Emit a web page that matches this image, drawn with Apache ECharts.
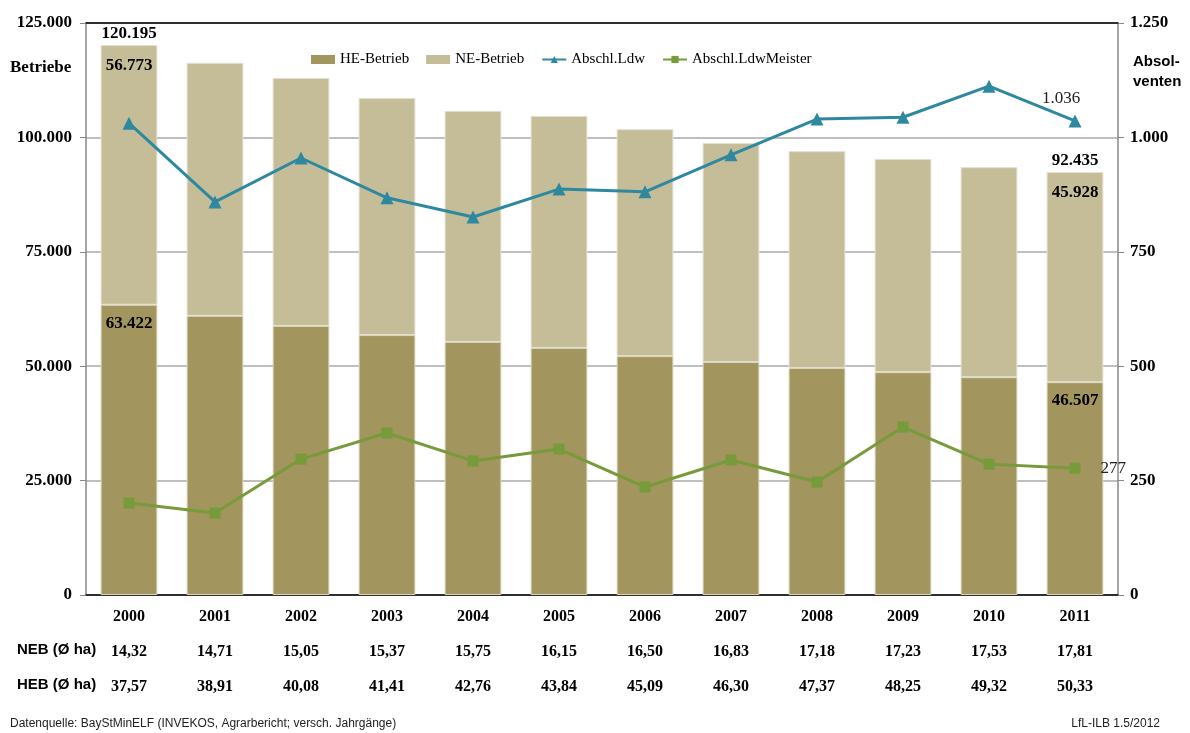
<!DOCTYPE html>
<html lang="de">
<head>
    <meta charset="UTF-8">
    <title>Betriebe und Absolventen</title>
    <script src="https://cdn.jsdelivr.net/npm/echarts@6/dist/echarts.min.js"></script>
    <style>
        html, body { margin: 0; height: 100%; background: #fff; }
        #main { width: 1190px; height: 733px; }
    </style>
</head>
<body>
<div id="main"></div>
<script>
    // Jahre
    var years = ['2000', '2001', '2002', '2003', '2004', '2005', '2006', '2007', '2008', '2009', '2010', '2011'];
    // Haupterwerbsbetriebe / Nebenerwerbsbetriebe
    var heBetrieb = [63422, 61000, 58800, 56800, 55300, 54000, 52200, 50900, 49600, 48700, 47600, 46507];
    var neBetrieb = [56773, 55300, 54200, 51800, 50500, 50700, 49600, 47900, 47400, 46600, 45900, 45928];
    var gesamt = [120195, null, null, null, null, null, null, null, null, null, null, 92435];
    // Absolventen
    var abschlLdw = [1031, 859, 955, 868, 826, 887, 881, 962, 1040, 1044, 1112, 1036];
    var abschlMeister = [201, 179, 297, 354, 293, 319, 236, 295, 247, 367, 286, 277];
    // Durchschnittliche Flaeche
    var nebHa = ['14,32', '14,71', '15,05', '15,37', '15,75', '16,15', '16,50', '16,83', '17,18', '17,23', '17,53', '17,81'];
    var hebHa = ['37,57', '38,91', '40,08', '41,41', '42,76', '43,84', '45,09', '46,30', '47,37', '48,25', '49,32', '50,33'];

    var serif = '"Liberation Serif", "Times New Roman", serif';
    var sans = '"Liberation Sans", Arial, sans-serif';

    function punkt(v) {
        return String(v).replace(/\B(?=(\d{3})+(?!\d))/g, '.');
    }
    function endLabel(p) {
        return (p.dataIndex === 0 || p.dataIndex === years.length - 1) ? punkt(p.value) : '';
    }

    var chart = echarts.init(document.getElementById('main'));

    var option = {
        animation: false,
        grid: { left: 86, right: 72, top: 23, bottom: 138 },
        legend: {
            left: 306,
            top: 47,
            itemWidth: 24,
            itemHeight: 9,
            itemGap: 17,
            itemStyle: { borderWidth: 0 },
            textStyle: { fontFamily: serif, fontSize: 15, color: '#000' },
            data: [
                { name: 'HE-Betrieb', icon: 'rect' },
                { name: 'NE-Betrieb', icon: 'rect' },
                'Abschl.Ldw',
                'Abschl.LdwMeister'
            ]
        },
        xAxis: [
            {
                type: 'category',
                data: years,
                axisLine: { lineStyle: { color: '#000', width: 1.5 } },
                axisTick: { show: false },
                axisLabel: { fontFamily: serif, fontSize: 16, fontWeight: 'bold', color: '#000', margin: 14 }
            },
            {
                type: 'category',
                data: nebHa,
                position: 'bottom',
                offset: 35,
                axisLine: { show: false },
                axisTick: { show: false },
                axisLabel: { fontFamily: serif, fontSize: 16, fontWeight: 'bold', color: '#000', margin: 14 }
            },
            {
                type: 'category',
                data: hebHa,
                position: 'bottom',
                offset: 70,
                axisLine: { show: false },
                axisTick: { show: false },
                axisLabel: { fontFamily: serif, fontSize: 16, fontWeight: 'bold', color: '#000', margin: 14 }
            },
            {
                type: 'category',
                data: years,
                position: 'top',
                axisLine: { lineStyle: { color: '#000', width: 1.5 } },
                axisTick: { show: false },
                axisLabel: { show: false }
            }
        ],
        yAxis: [
            {
                type: 'value',
                min: 0,
                max: 125000,
                interval: 25000,
                axisLine: { show: true, lineStyle: { color: '#888', width: 1.5 } },
                axisTick: { show: true, inside: false, length: 6, lineStyle: { color: '#888' } },
                splitLine: { lineStyle: { color: '#aaa', width: 1.5 } },
                axisLabel: {
                    fontFamily: serif, fontSize: 17, fontWeight: 'bold', color: '#000', margin: 14,
                    formatter: function (v) { return punkt(v); }
                }
            },
            {
                type: 'value',
                min: 0,
                max: 1250,
                interval: 250,
                position: 'right',
                axisLine: { show: true, lineStyle: { color: '#888', width: 1.5 } },
                axisTick: { show: true, length: 6, lineStyle: { color: '#888' } },
                splitLine: { show: false },
                axisLabel: {
                    fontFamily: serif, fontSize: 17, fontWeight: 'bold', color: '#000', margin: 12,
                    formatter: function (v) { return punkt(v); }
                }
            }
        ],
        series: [
            {
                name: 'HE-Betrieb',
                type: 'bar',
                stack: 'betriebe',
                barWidth: '66%',
                data: heBetrieb,
                itemStyle: { color: '#a2955d', borderColor: '#d9d4bd', borderWidth: 1 },
                label: {
                    show: true, position: 'insideTop', distance: 10,
                    fontFamily: serif, fontSize: 17, fontWeight: 'bold', color: '#000',
                    formatter: endLabel
                },
                z: 2
            },
            {
                name: 'NE-Betrieb',
                type: 'bar',
                stack: 'betriebe',
                data: neBetrieb,
                itemStyle: { color: '#c5bd98', borderColor: '#e4e0cf', borderWidth: 1 },
                label: {
                    show: true, position: 'insideTop', distance: 12,
                    fontFamily: serif, fontSize: 17, fontWeight: 'bold', color: '#000',
                    formatter: endLabel
                },
                z: 2
            },
            {
                name: 'Summe',
                type: 'scatter',
                data: gesamt,
                symbolSize: 0,
                silent: true,
                itemStyle: { opacity: 1, color: '#000' },
                label: {
                    show: true, position: 'top', distance: 3,
                    fontFamily: serif, fontSize: 17, fontWeight: 'bold', color: '#000',
                    formatter: function (p) { return punkt(p.value); }
                },
                z: 3
            },
            {
                name: 'Abschl.Ldw',
                type: 'line',
                yAxisIndex: 1,
                data: abschlLdw,
                symbol: 'triangle',
                symbolSize: 13,
                lineStyle: { color: '#2e889f', width: 3 },
                itemStyle: { color: '#2e889f' },
                label: {
                    show: true, position: 'top', offset: [-14, -2],
                    fontFamily: serif, fontSize: 17, color: '#222',
                    formatter: function (p) { return p.dataIndex === years.length - 1 ? punkt(p.value) : ''; }
                },
                z: 5
            },
            {
                name: 'Abschl.LdwMeister',
                type: 'line',
                yAxisIndex: 1,
                data: abschlMeister,
                symbol: 'rect',
                symbolSize: 11,
                lineStyle: { color: '#779a3a', width: 3 },
                itemStyle: { color: '#779a3a' },
                label: {
                    show: true, position: 'right', distance: 20,
                    fontFamily: serif, fontSize: 17, color: '#222',
                    formatter: function (p) { return p.dataIndex === years.length - 1 ? punkt(p.value) : ''; }
                },
                z: 5
            }
        ],
        graphic: [
            {
                type: 'text', left: 10, top: 59,
                style: { text: 'Betriebe', fontFamily: serif, fontSize: 17, fontWeight: 'bold', fill: '#000' }
            },
            {
                type: 'text', left: 1133, top: 52,
                style: { text: 'Absol-\nventen', fontFamily: sans, fontSize: 15, fontWeight: 'bold', lineHeight: 20, fill: '#000' }
            },
            {
                type: 'text', left: 17, top: 642,
                style: { text: 'NEB (Ø ha)', fontFamily: sans, fontSize: 15, fontWeight: 'bold', fill: '#000' }
            },
            {
                type: 'text', left: 17, top: 677,
                style: { text: 'HEB (Ø ha)', fontFamily: sans, fontSize: 15, fontWeight: 'bold', fill: '#000' }
            },
            {
                type: 'text', left: 10, top: 718,
                style: { text: 'Datenquelle: BayStMinELF (INVEKOS, Agrarbericht; versch. Jahrgänge)', fontFamily: sans, fontSize: 12, fill: '#222' }
            },
            {
                type: 'text', right: 30, top: 718,
                style: { text: 'LfL-ILB 1.5/2012', fontFamily: sans, fontSize: 12, fill: '#222' }
            }
        ]
    };

    chart.setOption(option);
</script>
</body>
</html>
